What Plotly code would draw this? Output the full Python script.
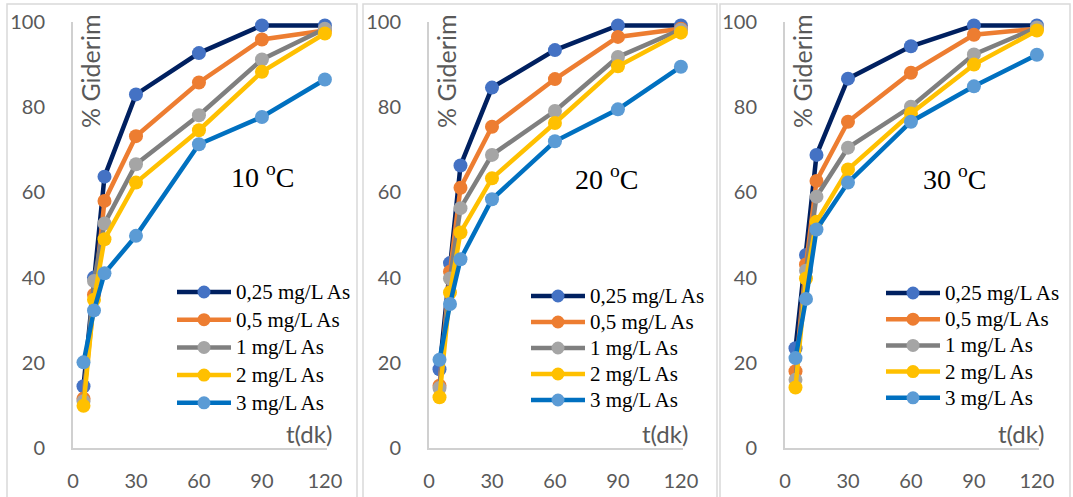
import plotly.graph_objects as go

W, H = 1073, 497

times = [5, 10, 15, 30, 60, 90, 120]
series_names = ["0,25 mg/L As", "0,5 mg/L As", "1 mg/L As", "2 mg/L As", "3 mg/L As"]
temps = ["10", "20", "30"]

# % removal values, panel 10 C
p10_025 = [14.5, 40.0, 63.7, 83.0, 92.7, 99.2, 99.2]
p10_05 = [11.6, 36.0, 58.0, 73.2, 85.8, 95.9, 98.0]
p10_1 = [11.0, 39.2, 52.7, 66.6, 78.1, 91.2, 98.4]
p10_2 = [9.9, 34.8, 49.0, 62.3, 74.6, 88.3, 97.3]
p10_3 = [20.1, 32.3, 41.0, 49.8, 71.3, 77.7, 86.5]

# panel 20 C
p20_025 = [18.5, 43.4, 66.3, 84.6, 93.4, 99.2, 99.2]
p20_05 = [14.6, 41.4, 61.1, 75.4, 86.6, 96.5, 98.4]
p20_1 = [14.1, 39.8, 56.3, 68.8, 79.1, 91.8, 98.2]
p20_2 = [11.9, 36.5, 50.6, 63.3, 76.3, 89.6, 97.5]
p20_3 = [20.7, 33.8, 44.3, 58.4, 72.0, 79.5, 89.5]

# panel 30 C
p30_025 = [23.4, 45.3, 68.8, 86.7, 94.3, 99.2, 99.2]
p30_05 = [18.0, 43.1, 62.7, 76.6, 88.1, 97.0, 98.4]
p30_1 = [16.0, 41.6, 59.0, 70.5, 80.1, 92.4, 98.7]
p30_2 = [14.2, 39.8, 53.1, 65.4, 78.5, 90.0, 98.0]
p30_3 = [21.1, 35.0, 51.3, 62.3, 76.6, 84.9, 92.3]

panels = [
    [p10_025, p10_05, p10_1, p10_2, p10_3],
    [p20_025, p20_05, p20_1, p20_2, p20_3],
    [p30_025, p30_05, p30_1, p30_2, p30_3],
]

line_colors = ["#002060", "#ED7D31", "#7F7F7F", "#FFC000", "#0070C0"]
marker_colors = ["#4472C4", "#ED7D31", "#A5A5A5", "#FFC000", "#5B9BD5"]

x_ticks = [0, 30, 60, 90, 120]
y_ticks = [0, 20, 40, 60, 80, 100]


def px(x):
    return x / W


def py(y):
    return 1 - y / H


axis_left = [73, 429, 785]
axis_width = 254
y_top, y_bot = 22, 448

fig = go.Figure()

for pi, pdata in enumerate(panels):
    suffix = "" if pi == 0 else str(pi + 1)
    for si, vals in enumerate(pdata):
        fig.add_trace(go.Scatter(
            x=times, y=vals, mode="lines+markers", name=series_names[si],
            line=dict(color=line_colors[si], width=4.5),
            marker=dict(color=marker_colors[si], size=14),
            xaxis="x" + suffix, yaxis="y" + suffix,
            showlegend=False, cliponaxis=False,
        ))

tick_font = dict(family="Lato", size=20, color="#595959")
layout = dict(
    width=W, height=H, margin=dict(l=0, r=0, t=0, b=0, autoexpand=False),
    paper_bgcolor="white", plot_bgcolor="white", showlegend=False,
)

# legend block layout per panel: line start x, first row y, row spacing
legend_x = [177, 531, 886]
legend_y0 = [292, 296, 293]
legend_dy = [27.7, 26.0, 26.2]
legend_line_len = 54
legend_text_gap = 3

shapes = []
annotations = []
frames = [(7, 357), (363, 717), (720, 1070)]

for pi in range(3):
    suffix = "" if pi == 0 else str(pi + 1)
    xl = axis_left[pi]
    layout["xaxis" + suffix] = dict(
        domain=[px(xl), px(xl + axis_width)], range=[0, 121],
        tickvals=x_ticks, showgrid=False, zeroline=False,
        showline=True, linecolor="#D0D0D0", linewidth=2,
        ticks="", tickfont=tick_font, anchor="y" + suffix,
        ticklabelstandoff=14, automargin=False,
    )
    layout["yaxis" + suffix] = dict(
        domain=[py(y_bot), py(y_top)], range=[0, 100],
        tickvals=y_ticks, showgrid=False, zeroline=False,
        showline=True, linecolor="#D0D0D0", linewidth=2,
        ticks="", tickfont=tick_font, anchor="x" + suffix,
        ticklabelstandoff=22, automargin=False,
    )
    f0, f1 = frames[pi]
    shapes.append(dict(type="rect", xref="paper", yref="paper",
                       x0=px(f0), x1=px(f1), y0=py(500), y1=py(4),
                       line=dict(color="#D9D9D9", width=1.5)))
    annotations.append(dict(
        text="% Giderim", textangle=-90, xref="paper", yref="paper",
        x=px(xl + 17), y=py(72), showarrow=False,
        xanchor="center", yanchor="middle",
        font=dict(family="Lato", size=25, color="#595959"),
    ))
    annotations.append(dict(
        text="t(dk)", xref="paper", yref="paper",
        x=px(xl + 236), y=py(433), showarrow=False,
        xanchor="center", yanchor="middle",
        font=dict(family="Lato", size=24, color="#595959"),
    ))
    # legend entries
    lx = legend_x[pi]
    for si, name in enumerate(series_names):
        ry = legend_y0[pi] + si * legend_dy[pi]
        shapes.append(dict(type="line", xref="paper", yref="paper",
                           x0=px(lx), x1=px(lx + legend_line_len), y0=py(ry), y1=py(ry),
                           line=dict(color=line_colors[si], width=4.5)))
        cx = lx + legend_line_len / 2
        shapes.append(dict(type="circle", xref="paper", yref="paper",
                           x0=px(cx - 6.5), x1=px(cx + 6.5), y0=py(ry + 6.5), y1=py(ry - 6.5),
                           fillcolor=marker_colors[si], line=dict(width=0)))
        annotations.append(dict(
            text=name, xref="paper", yref="paper",
            x=px(lx + legend_line_len + legend_text_gap), y=py(ry), showarrow=False,
            xanchor="left", yanchor="middle",
            font=dict(family="Liberation Serif", size=21, color="black"),
        ))

temp_pos = [(262, 175), (607, 177), (954, 177)]
for pi, (tx, ty) in enumerate(temp_pos):
    annotations.append(dict(
        text=temps[pi] + " <sup>o</sup>C", xref="paper", yref="paper",
        x=px(tx), y=py(ty), showarrow=False,
        xanchor="center", yanchor="middle",
        font=dict(family="Liberation Serif", size=28, color="black"),
    ))

layout["shapes"] = shapes
layout["annotations"] = annotations
fig.update_layout(**layout)
fig.write_html("out.html")
